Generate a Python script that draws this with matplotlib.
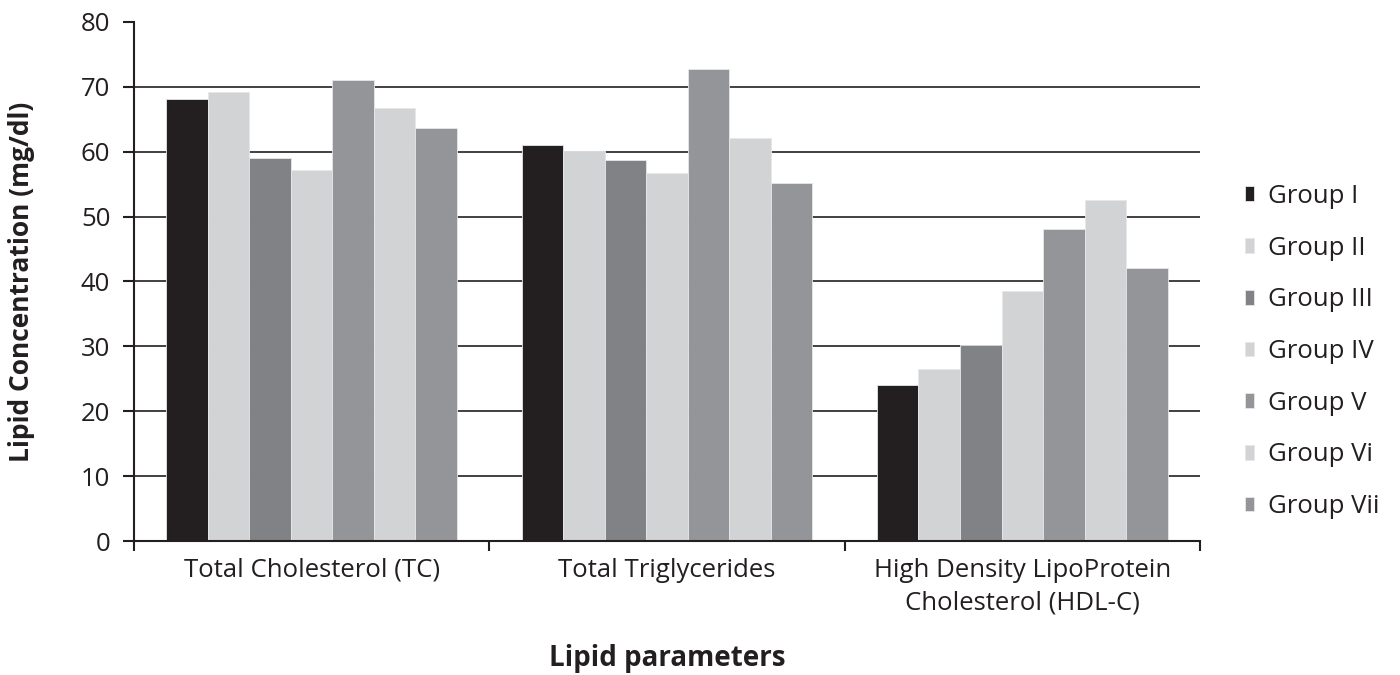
import numpy as np
import matplotlib
matplotlib.use("Agg")
import matplotlib.pyplot as plt

plt.rcParams['font.family'] = ['Open Sans', 'DejaVu Sans']

parameters = ["Total Cholesterol (TC)", "Total Triglycerides",
              "High Density LipoProtein\nCholesterol (HDL-C)"]
groups = ["Group I", "Group II", "Group III", "Group IV",
          "Group V", "Group Vi", "Group Vii"]

# mg/dl, one list per group: TC, TG, HDL-C
group_i = [68.2, 61.1, 24.0]
group_ii = [69.2, 60.1, 26.5]
group_iii = [59.1, 58.7, 30.2]
group_iv = [57.2, 56.7, 38.6]
group_v = [71.1, 72.7, 48.1]
group_vi = [66.7, 62.1, 52.6]
group_vii = [63.7, 55.2, 42.1]

values = [group_i, group_ii, group_iii, group_iv, group_v, group_vi, group_vii]
colors = ["#231f20", "#d1d3d4", "#808285", "#d1d3d4",
          "#939598", "#d1d3d4", "#939598"]
ink = "#231f20"
fs = 18.5

fig = plt.figure(figsize=(14, 6.75), dpi=100)
ax = fig.add_axes([0.0957, 0.1985, 0.7614, 0.769])

x = np.arange(len(parameters))
n = len(groups)
width = 0.818 / n
for i, (name, vals, c) in enumerate(zip(groups, values, colors)):
    offs = (i - (n - 1) / 2) * width
    ax.bar(x + offs, vals, width, color=c, label=name,
           edgecolor="#e6e7e8", linewidth=0.6, zorder=3)

ax.set_xlim(-0.5, 2.5)
ax.set_ylim(0, 80)
ax.set_yticks(np.arange(0, 81, 10))
for yv in range(10, 80, 10):
    ax.axhline(yv, color=ink, linewidth=1.2, zorder=1)

ax.spines['top'].set_visible(False)
ax.spines['right'].set_visible(False)
ax.spines['left'].set_color(ink)
ax.spines['bottom'].set_color(ink)
ax.spines['left'].set_linewidth(1.5)
ax.spines['bottom'].set_linewidth(1.5)
ax.spines['bottom'].set_zorder(4)

# category labels sit between boundary ticks
ax.set_xticks([-0.5, 0.5, 1.5, 2.5])
ax.set_xticklabels([])
ax.set_xticks(x, minor=True)
ax.set_xticklabels(parameters, minor=True, fontsize=fs, color=ink,
                   linespacing=1.4)
ax.tick_params(axis='x', which='major', direction='out', length=7,
               width=1.5, color=ink)
ax.tick_params(axis='x', which='minor', length=0, pad=12)
ax.tick_params(axis='y', direction='out', length=8, width=1.5,
               color=ink, labelsize=fs, labelcolor=ink, pad=9)

ax.set_ylabel("Lipid Concentration (mg/dl)", fontsize=19, fontweight='bold',
              color=ink, labelpad=33)
ax.set_xlabel("Lipid parameters", fontsize=20, fontweight='bold',
              color=ink, labelpad=21)

leg = ax.legend(loc='center left', bbox_to_anchor=(1.042, 0.365), frameon=False,
                fontsize=fs, handlelength=0.35, handleheight=0.5,
                handletextpad=0.55, labelspacing=1.04, borderpad=0,
                borderaxespad=0)
for t in leg.get_texts():
    t.set_color(ink)

fig.savefig("out.png", dpi=100)
